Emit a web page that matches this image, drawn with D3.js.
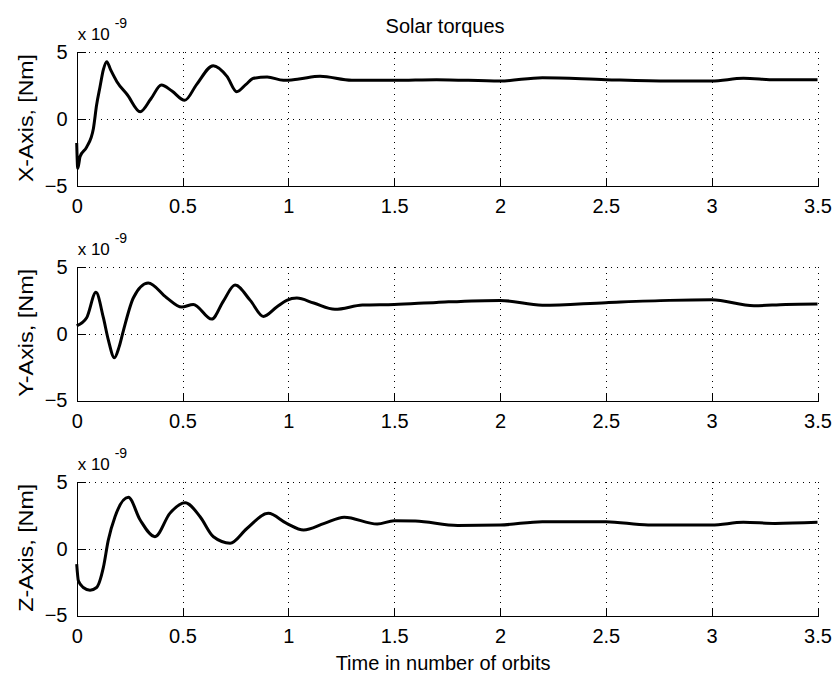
<!DOCTYPE html>
<html>
<head>
<meta charset="utf-8">
<script src="https://cdn.jsdelivr.net/npm/d3@7"></script>
<style>
  body { margin: 0; background: #fff; }
  text { font-family: "Liberation Sans", Arial, sans-serif; fill: #000; }
</style>
</head>
<body>
<div id="chart"></div>
<script>
// time axis (orbits) and torque values in units of 1e-9 Nm
var tX = [0, 0.005, 0.016, 0.047, 0.079, 0.094, 0.11, 0.126, 0.142, 0.16, 0.19, 0.24, 0.30, 0.35, 0.40, 0.45, 0.51, 0.567, 0.645, 0.71, 0.756, 0.80, 0.835, 0.90, 0.977, 1.05, 1.15, 1.3, 1.5, 1.7, 2.0, 2.2, 2.5, 2.8, 3.0, 3.15, 3.3, 3.5];
var vX = [-1.8, -3.7, -2.8, -2.1, -0.7, 1.05, 2.4, 3.7, 4.3, 3.7, 2.8, 1.8, 0.55, 1.5, 2.55, 2.1, 1.4, 2.6, 4.0, 3.2, 2.05, 2.6, 3.05, 3.15, 2.9, 3.0, 3.2, 2.9, 2.9, 2.95, 2.85, 3.1, 2.95, 2.85, 2.85, 3.05, 2.95, 2.95];

var tY = [0, 0.047, 0.091, 0.126, 0.15, 0.178, 0.20, 0.22, 0.268, 0.338, 0.425, 0.496, 0.551, 0.638, 0.693, 0.748, 0.82, 0.882, 0.945, 0.992, 1.04, 1.12, 1.22, 1.35, 1.5, 1.7, 2.0, 2.2, 2.5, 2.8, 3.0, 3.2, 3.35, 3.5];
var vY = [0.6, 1.2, 3.1, 1.2, -0.5, -1.8, -1.0, 0.2, 2.7, 3.8, 2.7, 2.0, 2.2, 1.1, 2.45, 3.65, 2.5, 1.3, 2.0, 2.5, 2.67, 2.3, 1.83, 2.15, 2.2, 2.35, 2.5, 2.13, 2.33, 2.5, 2.54, 2.1, 2.2, 2.23];

var tZ = [0, 0.008, 0.031, 0.063, 0.094, 0.126, 0.149, 0.181, 0.244, 0.30, 0.37, 0.44, 0.512, 0.583, 0.646, 0.725, 0.803, 0.905, 0.992, 1.072, 1.17, 1.264, 1.42, 1.5, 1.6, 1.8, 2.0, 2.2, 2.5, 2.7, 3.0, 3.15, 3.3, 3.5];
var vZ = [-1.15, -2.4, -2.9, -3.1, -2.9, -1.4, 0.63, 2.4, 3.85, 2.15, 0.9, 2.65, 3.45, 2.4, 0.9, 0.42, 1.5, 2.65, 1.9, 1.4, 1.9, 2.36, 1.85, 2.1, 2.08, 1.75, 1.78, 2.03, 2.03, 1.78, 1.78, 1.98, 1.9, 1.98];

var xTicks = [0, 0.5, 1, 1.5, 2, 2.5, 3, 3.5];
var yTicks = [-5, 0, 5];
var yLabels = ["X-Axis, [Nm]", "Y-Axis, [Nm]", "Z-Axis, [Nm]"];
var titleText = "Solar torques";
var xLabelText = "Time in number of orbits";

var width = 837, height = 680;
var left = 76.7, right = 817.5, plotH = 133.5;
var tops = [52.3, 267, 482];

var svg = d3.select("#chart").append("svg")
  .attr("width", width)
  .attr("height", height);

var x = d3.scaleLinear().domain([0, 3.5]).range([left, right]);

var series = [
  {t: tX, v: vX},
  {t: tY, v: vY},
  {t: tZ, v: vZ}
];

series.forEach(function(s, i) {
  var top = tops[i];
  var y = d3.scaleLinear().domain([-5, 5]).range([top + plotH, top]);
  var g = svg.append("g");

  // dotted grid
  g.selectAll(".vgrid").data(xTicks.filter(d => d > 0))
    .join("line")
    .attr("x1", d => Math.round(x(d)) + 0.5).attr("x2", d => Math.round(x(d)) + 0.5)
    .attr("y1", top).attr("y2", top + plotH)
    .attr("stroke", "#000").attr("stroke-width", 1)
    .attr("stroke-dasharray", "1,5")
    .attr("shape-rendering", "crispEdges");
  g.selectAll(".hgrid").data(yTicks.filter(d => d > -5))
    .join("line")
    .attr("x1", left).attr("x2", right)
    .attr("y1", d => Math.round(y(d)) + 0.5).attr("y2", d => Math.round(y(d)) + 0.5)
    .attr("stroke", "#000").attr("stroke-width", 1)
    .attr("stroke-dasharray", "1,5")
    .attr("shape-rendering", "crispEdges");

  // axes, ticks inward
  var xAxis = d3.axisBottom(x).tickValues(xTicks).tickSize(-8).tickPadding(14)
    .tickFormat(d3.format("~g"));
  var gx = g.append("g")
    .attr("transform", "translate(0," + (Math.round(top + plotH) + 0.5) + ")")
    .call(xAxis);
  gx.select(".domain").attr("d", "M" + left + ",0H" + right);

  var yAxis = d3.axisLeft(y).tickValues(yTicks).tickSize(-8).tickPadding(10)
    .tickFormat(d3.format("~g"));
  var gy = g.append("g")
    .attr("transform", "translate(" + (Math.round(left) + 0.5) + ",0)")
    .call(yAxis);
  gy.select(".domain").attr("d", "M0," + top + "V" + (top + plotH));

  [gx, gy].forEach(a => {
    a.selectAll("line, path").attr("stroke", "#000").attr("shape-rendering", "crispEdges");
    a.selectAll("text").style("font-size", "20px")
      .style("font-family", '"Liberation Sans", Arial, sans-serif');
  });
  gx.selectAll("text").attr("dy", "0.71em").attr("y", 12);

  // multiplier
  g.append("text").attr("x", left + 1).attr("y", top - 12)
    .style("font-size", "17px").text("x 10");
  g.append("text").attr("x", left + 38).attr("y", top - 24)
    .style("font-size", "14px").text("-9");

  // y label
  g.append("text")
    .attr("transform", "translate(33," + (top + plotH / 2 - 1) + ") rotate(-90)")
    .attr("text-anchor", "middle")
    .attr("textLength", 128).attr("lengthAdjust", "spacingAndGlyphs")
    .style("font-size", "20px")
    .text(yLabels[i]);

  // curve
  var pts = s.t.map((t, k) => [t, s.v[k]]);
  g.append("path")
    .datum(pts)
    .attr("fill", "none")
    .attr("stroke", "#000")
    .attr("stroke-width", 3)
    .attr("stroke-linejoin", "round")
    .attr("d", d3.line().x(d => x(d[0])).y(d => y(d[1])).curve(d3.curveMonotoneX));
});

svg.append("text")
  .attr("x", (left + right) / 2 - 2).attr("y", 33)
  .attr("text-anchor", "middle")
  .style("font-size", "20px")
  .text(titleText);

svg.append("text")
  .attr("x", (left + right) / 2 - 4).attr("y", 670)
  .attr("text-anchor", "middle")
  .style("font-size", "20px")
  .text(xLabelText);
</script>
</body>
</html>
